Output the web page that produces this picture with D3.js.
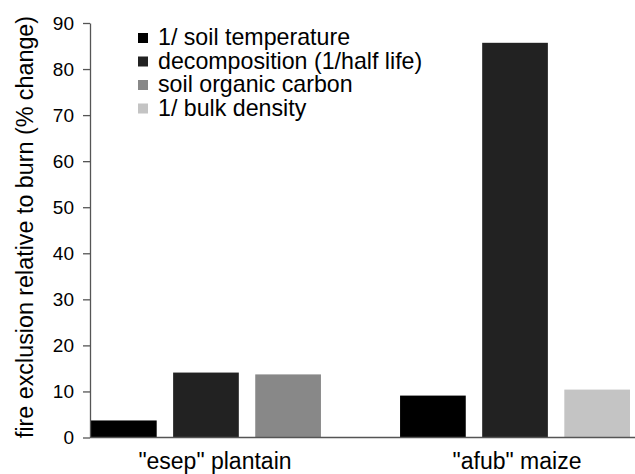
<!DOCTYPE html>
<html>
<head>
<meta charset="utf-8">
<script src="https://cdn.jsdelivr.net/npm/d3@7"></script>
<style>
  html, body { margin: 0; padding: 0; background: #fff; }
  svg { display: block; font-family: "Liberation Sans", Arial, sans-serif; }
</style>
</head>
<body>
<svg id="chart" width="635" height="474"></svg>
<script>
// ===== Data =====
const categories = ['"esep" plantain', '"afub" maize'];
const seriesNames = ['1/ soil temperature', 'decomposition (1/half life)', 'soil organic carbon', '1/ bulk density'];
const seriesColors = ['#000000', '#222222', '#888888', '#c4c4c4'];
// % change per category, one entry per series (null = not shown)
const esepValues = [3.7, 14.1, 13.7, null];
const afubValues = [9.1, 85.7, null, 10.4];
const yTicks = [0, 10, 20, 30, 40, 50, 60, 70, 80, 90];

const svg = d3.select('#chart');
const axisColor = '#555';

// --- Scales ---
const y = d3.scaleLinear().domain([0, 90]).range([437.5, 23]);
const x0 = d3.scaleBand().domain(categories).range([91, 630]).paddingInner(0.256).paddingOuter(0);
const x1 = d3.scaleBand().domain([0, 1, 2]).range([0, x0.bandwidth()]).paddingInner(0.2).paddingOuter(0);

// --- Bars: each group puts its present series into consecutive slots ---
const groups = [esepValues, afubValues].map((vals, ci) => ({
    cat: categories[ci],
    bars: vals.map((v, si) => ({ v, si })).filter(d => d.v !== null)
}));

const g = svg.selectAll('g.grp').data(groups).join('g')
    .attr('class', 'grp')
    .attr('transform', d => `translate(${x0(d.cat)},0)`);

g.selectAll('rect').data(d => d.bars).join('rect')
    .attr('x', (d, i) => x1(i))
    .attr('width', x1.bandwidth())
    .attr('y', d => y(d.v))
    .attr('height', d => y(0) - y(d.v))
    .attr('fill', d => seriesColors[d.si]);

// --- Y axis ---
const yAxis = svg.append('g')
    .attr('transform', 'translate(90,0)')
    .call(d3.axisLeft(y).tickValues(yTicks).tickSize(7).tickPadding(9).tickSizeOuter(0));
yAxis.select('.domain').attr('stroke', axisColor).attr('stroke-width', 1.3);
yAxis.selectAll('.tick line').attr('stroke', axisColor).attr('stroke-width', 1.3);
yAxis.selectAll('.tick text')
    .style('font-size', '19px')
    .style('font-family', '"Liberation Sans", Arial, sans-serif')
    .attr('fill', '#000');

// --- X axis line ---
svg.append('line')
    .attr('x1', 90).attr('x2', 635)
    .attr('y1', y(0)).attr('y2', y(0))
    .attr('stroke', axisColor).attr('stroke-width', 1.3);

// Category labels
svg.selectAll('text.cat').data(categories).join('text')
    .attr('class', 'cat')
    .attr('x', (d, i) => x0(d) + x0.bandwidth() / 2 + (i === 0 ? 9 : 2))
    .attr('y', 469)
    .attr('text-anchor', 'middle')
    .style('font-size', '23px')
    .attr('fill', '#000')
    .text(d => d);

// Y title
svg.append('text')
    .attr('transform', 'translate(33,227) rotate(-90)')
    .attr('text-anchor', 'middle')
    .style('font-size', '23.3px')
    .attr('fill', '#000')
    .text('fire exclusion relative to burn (% change)');

// --- Legend ---
const legendY = d3.scaleBand().domain(seriesNames).range([27, 121]);
const leg = svg.selectAll('g.leg').data(seriesNames).join('g')
    .attr('class', 'leg')
    .attr('transform', d => `translate(138,${legendY(d)})`);

leg.append('rect')
    .attr('x', 0).attr('y', 6)
    .attr('width', 10).attr('height', 10)
    .attr('fill', (d, i) => seriesColors[i]);

leg.append('text')
    .attr('x', 20).attr('y', 18)
    .style('font-size', '23.2px')
    .attr('fill', '#000')
    .text(d => d);
</script>
</body>
</html>
